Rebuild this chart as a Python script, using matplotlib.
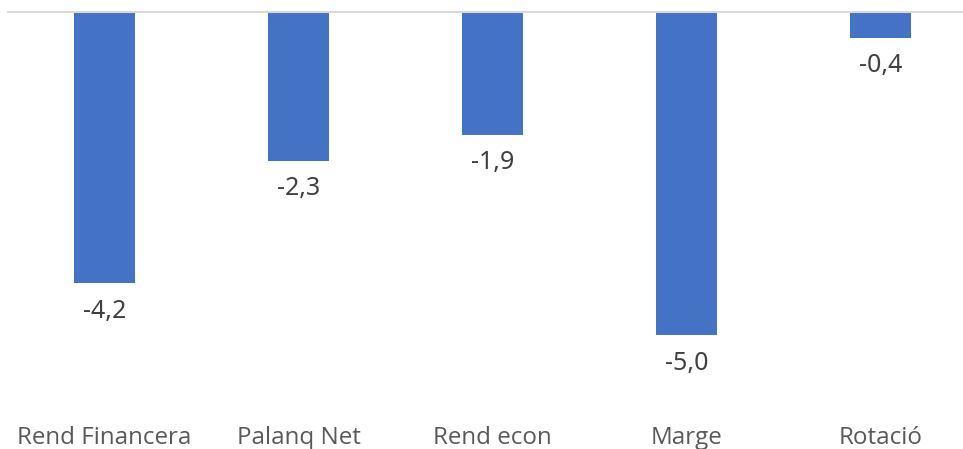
import matplotlib.pyplot as plt

categories = ['Rend Financera', 'Palanq Net', 'Rend econ', 'Marge', 'Rotació']
values = [-4.2, -2.3, -1.9, -5.0, -0.4]
labels = ['-4,2', '-2,3', '-1,9', '-5,0', '-0,4']

bar_color = '#4472C4'

fig = plt.figure(figsize=(9.63, 4.49), dpi=100)
# axes spans past the right edge, like the cropped original
W, H = 963, 449
left, right = 7.5, 977.5
top, bottom = 12, 399.6
ax = fig.add_axes([left / W, (H - bottom) / H, (right - left) / W, (bottom - top) / H])

x = range(len(categories))
ax.bar(x, values, width=0.315, color=bar_color, zorder=2)
ax.set_xlim(-0.5, len(categories) - 0.5)
ax.set_ylim(-6, 0)

for xi, v, lab in zip(x, values, labels):
    ax.annotate(lab, (xi, v), xytext=(0, -28), textcoords='offset pixels',
                ha='center', va='center', fontsize=18, color='#404040',
                family='Noto Sans')

ax.axhline(0, color='#d9d9d9', linewidth=1.5, zorder=3, clip_on=False)

ax.set_xticks(list(x))
ax.set_xticklabels(categories, fontsize=17.4, color='#595959', family='Open Sans')
ax.tick_params(axis='x', length=0, pad=19)
ax.set_yticks([])
for s in ax.spines.values():
    s.set_visible(False)

fig.savefig('out.png', dpi=100)
